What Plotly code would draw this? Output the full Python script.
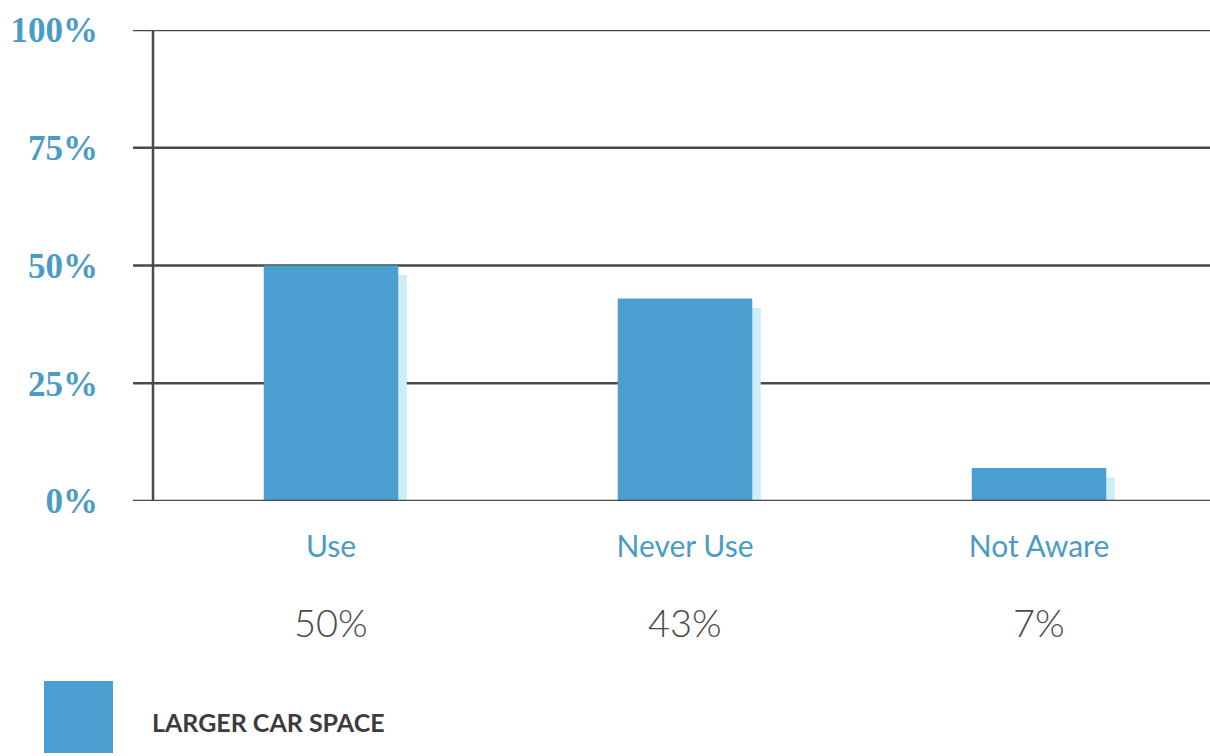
import plotly.graph_objects as go

# Survey responses for the larger car space
categories = ["Use", "Never Use", "Not Aware"]
shares = [50, 43, 7]
y_ticks = [0, 25, 50, 75, 100]
y_tick_labels = ["0%", "25%", "50%", "75%", "100%"]
series_name = "LARGER CAR SPACE"

W, H = 1210, 756
BAR = "#4b9ed0"
SHADOW = "#cdeef6"
BLUE_TXT = "#4a9cc6"
LINE = "#4a4a4a"

x_pos = list(range(len(categories)))

# plot area in pixels
x0_px, x1_px = 153, 1210
y_top_px, y_bot_px = 30, 501
px_per_unit = 354.0
x_lo = -(331 - x0_px) / px_per_unit
x_hi = (x1_px - 331) / px_per_unit

fig = go.Figure()

# pale offset shadow beside each bar
fig.add_trace(go.Bar(
    x=x_pos, y=[max(v - 2, 0.8) for v in shares],
    width=0.38, offset=-0.19 + 0.024,
    marker=dict(color=SHADOW, line=dict(width=0)),
    showlegend=False, hoverinfo="skip",
))
fig.add_trace(go.Bar(
    x=x_pos, y=shares, name=series_name,
    width=0.38, offset=-0.19,
    marker=dict(color=BAR, line=dict(width=0)),
    showlegend=False,
))

fig.update_layout(
    width=W, height=H,
    margin=dict(l=0, r=0, t=0, b=0, pad=0, autoexpand=False),
    showlegend=False,
    paper_bgcolor="white", plot_bgcolor="rgba(0,0,0,0)",
    barmode="overlay",
    xaxis=dict(
        domain=[x0_px / W, x1_px / W],
        range=[x_lo, x_hi],
        automargin=False,
        tickmode="array", tickvals=x_pos, ticktext=categories,
        tickfont=dict(family="Lato", size=30, color=BLUE_TXT),
        ticks="", showgrid=False, zeroline=False, showline=False,
        ticklabelstandoff=25,
    ),
    yaxis=dict(
        domain=[1 - y_bot_px / H, 1 - y_top_px / H],
        range=[0, 100],
        automargin=False,
        tickmode="array", tickvals=y_ticks, ticktext=y_tick_labels,
        tickfont=dict(family="Liberation Serif", size=35, color=BLUE_TXT, weight="bold"),
        ticks="", showgrid=False, zeroline=False, showline=False,
        ticklabelstandoff=54,
    ),
)

shapes = []
# horizontal rules, extending a little left of the axis
for t in y_ticks:
    shapes.append(dict(type="line", xref="paper", yref="y",
                       x0=133 / W, x1=1, y0=t, y1=t,
                       line=dict(color=LINE, width=2.5), layer="above" if t == 0 else "below"))
# left vertical axis
shapes.append(dict(type="line", xref="paper", yref="y",
                   x0=x0_px / W, x1=x0_px / W, y0=0, y1=100,
                   line=dict(color=LINE, width=2.5)))
# legend swatch
shapes.append(dict(type="rect", xref="paper", yref="paper",
                   x0=44 / W, x1=113 / W, y0=1 - 753 / H, y1=1 - 681 / H,
                   fillcolor=BAR, line=dict(width=0)))
fig.update_layout(shapes=shapes)

annotations = []
for xp, v in zip(x_pos, shares):
    annotations.append(dict(x=xp, y=1 - 622 / H, xref="x", yref="paper",
                            yanchor="middle",
                            text=f"{v}%", showarrow=False,
                            font=dict(family="Lato", size=38, color="#4a4a4a", weight=300)))
annotations.append(dict(x=150 / W, y=1 - 722 / H, xref="paper", yref="paper",
                        xanchor="left", yanchor="middle", text=series_name, showarrow=False,
                        font=dict(family="Lato", size=25, color="#3c3c3c", weight="bold")))
fig.update_layout(annotations=annotations)

fig.write_html("out.html")
